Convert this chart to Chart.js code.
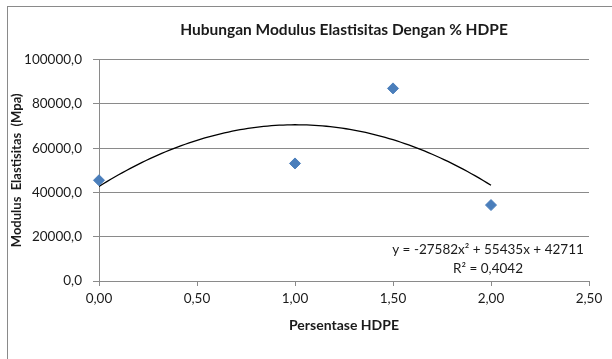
<!DOCTYPE html>
<html>
<head>
<meta charset="utf-8">
<script src="https://cdn.jsdelivr.net/npm/chart.js@4/dist/chart.umd.min.js"></script>
<style>
  html, body { margin: 0; padding: 0; background: #fff; }
  #wrap { position: relative; width: 612px; height: 359px; overflow: hidden; }
  #frame { position: absolute; left: 7px; top: 6px; width: 620px; height: 370px;
           border-top: 1px solid #8a8a8a; border-left: 1px solid #8a8a8a; pointer-events: none; }
  canvas { position: absolute; left: 0; top: 0; }
</style>
</head>
<body>
<div id="wrap">
  <canvas id="c" width="612" height="359"></canvas>
  <div id="frame"></div>
</div>
<script>
// ---- data ----
const chartTitle = 'Hubungan Modulus Elastisitas Dengan % HDPE';
const xAxisTitle = 'Persentase HDPE';
const yAxisTitle = 'Modulus  Elastisitas  (Mpa)';
const hdpePercent = [0.0, 1.0, 1.5, 2.0];
const modulusValues = [45500, 53100, 87000, 34300];
// polynomial trendline coefficients (a x^2 + b x + c) as printed on the chart
const trendCoeffs = [-27582, 55435, 42711];
const trendRange = [0.0, 2.0];
const equationLines = ['y = -27582x\u00B2 + 55435x + 42711', 'R\u00B2 = 0,4042'];
const xTickValues = [0, 0.5, 1.0, 1.5, 2.0, 2.5];
const yTickValues = [0, 20000, 40000, 60000, 80000, 100000];

const FONT = 'Lato, "Open Sans", sans-serif';

const scatterPts = hdpePercent.map((x, i) => ({ x: x, y: modulusValues[i] }));
const trendPts = [];
for (let k = 0; k <= 100; k++) {
  const x = trendRange[0] + (trendRange[1] - trendRange[0]) * k / 100;
  trendPts.push({ x: x, y: trendCoeffs[0] * x * x + trendCoeffs[1] * x + trendCoeffs[2] });
}

const equationPlugin = {
  id: 'equation',
  afterDatasetsDraw(chart) {
    const { ctx, scales } = chart;
    const cx = scales.x.getPixelForValue(2.0) - 3;
    const y1 = scales.y.getPixelForValue(14000);
    const y2 = scales.y.getPixelForValue(5500);
    ctx.save();
    ctx.fillStyle = '#1a1a1a';
    ctx.font = '13.5px ' + FONT;
    ctx.textAlign = 'center';
    ctx.textBaseline = 'middle';
    ctx.fillText(equationLines[0], cx, y1);
    ctx.fillText(equationLines[1], cx, y2);
    ctx.restore();
  }
};

new Chart(document.getElementById('c'), {
  type: 'scatter',
  data: {
    datasets: [
      {
        label: 'Modulus',
        data: scatterPts,
        pointStyle: 'rectRot',
        pointRadius: 5.5,
        pointHoverRadius: 5.5,
        backgroundColor: '#4a7ebb',
        borderColor: '#4a7ebb',
        borderWidth: 1,
        clip: false,
        order: 0
      },
      {
        label: 'Trend',
        data: trendPts,
        showLine: true,
        borderColor: '#000',
        borderWidth: 1.3,
        pointRadius: 0,
        tension: 0,
        fill: false,
        order: 1
      }
    ]
  },
  options: {
    responsive: false,
    animation: false,
    events: [],
    layout: { padding: { left: 0, right: 23, top: 0, bottom: 0 } },
    plugins: {
      legend: { display: false },
      tooltip: { enabled: false },
      title: {
        display: true,
        fullSize: false,
        text: chartTitle,
        color: '#1a1a1a',
        font: { family: FONT, size: 15.5, weight: 'bold' },
        padding: { top: 21, bottom: 20 }
      }
    },
    scales: {
      x: {
        type: 'linear',
        min: 0, max: 2.5,
        afterBuildTicks: (s) => { s.ticks = xTickValues.map(v => ({ value: v })); },
        afterFit: (s) => { s.height = 78; },
        ticks: {
          color: '#1a1a1a',
          font: { family: FONT, size: 13.5 },
          padding: 5,
          maxRotation: 0,
          callback: (v) => Number(v).toFixed(2).replace('.', ',')
        },
        grid: { drawOnChartArea: false, drawTicks: true, tickLength: 5, color: '#8a8a8a' },
        border: { color: '#8a8a8a' },
        title: {
          display: true,
          text: xAxisTitle,
          color: '#1a1a1a',
          font: { family: FONT, size: 14, weight: 'bold' },
          padding: { top: 0, bottom: 25 }
        }
      },
      y: {
        type: 'linear',
        min: 0, max: 100000,
        afterBuildTicks: (s) => { s.ticks = yTickValues.map(v => ({ value: v })); },
        afterFit: (s) => { s.width = 99; },
        ticks: {
          color: '#1a1a1a',
          font: { family: FONT, size: 13.5 },
          padding: 11,
          callback: (v) => Number(v).toFixed(1).replace('.', ',')
        },
        grid: { color: '#8a8a8a', tickLength: 6, drawTicks: true },
        border: { color: '#8a8a8a' },
        title: {
          display: true,
          text: yAxisTitle,
          color: '#1a1a1a',
          font: { family: FONT, size: 13, weight: 'bold' },
          padding: { top: 9, bottom: 0 }
        }
      }
    }
  },
  plugins: [equationPlugin]
});
</script>
</body>
</html>
